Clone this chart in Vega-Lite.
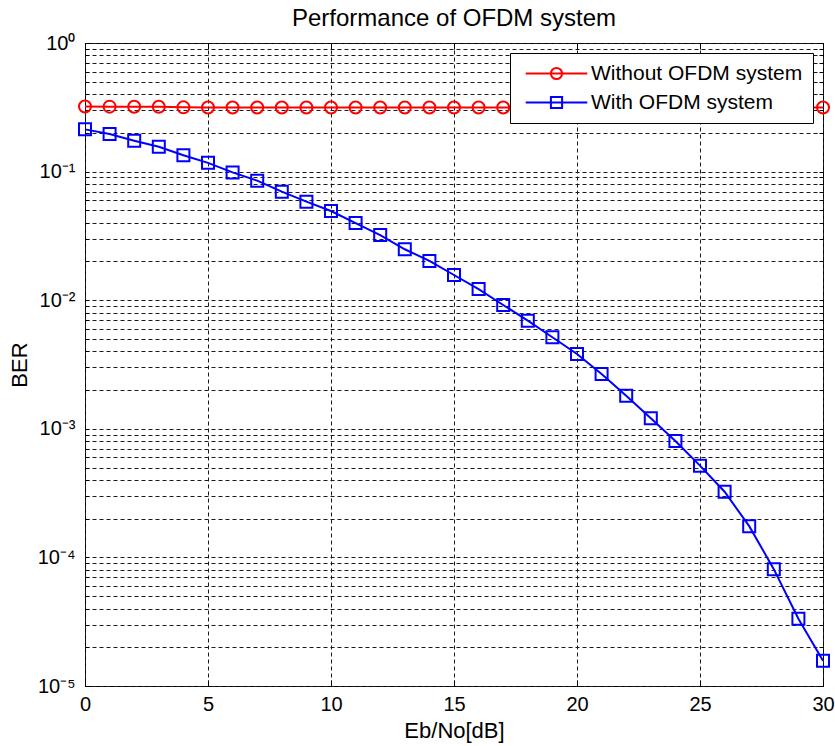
{
  "$schema": "https://vega.github.io/schema/vega-lite/v6.json",
  "width": 738,
  "height": 643,
  "autosize": "none",
  "padding": {"left": 85, "top": 43, "right": 12, "bottom": 60},
  "background": "white",
  "title": {"text": "Performance of OFDM system", "anchor": "middle", "frame": "group", "fontSize": 24, "fontWeight": "normal", "font": "Liberation Sans", "color": "black", "offset": 2},
  "config": {
    "font": "Liberation Sans",
    "view": {"stroke": "black", "strokeWidth": 1},
    "axis": {"labelColor": "black", "titleColor": "black", "labelFontSize": 20, "titleFontSize": 22, "titleFontWeight": "normal", "labelFont": "Liberation Sans", "titleFont": "Liberation Sans", "domainColor": "black", "tickColor": "black", "gridColor": "#1a1a1a", "gridDash": [4, 3], "gridWidth": 1, "gridOpacity": 1, "labelFlush": false, "labelOverlap": false}
  },
  "data": {"values": [
    {"x": 0, "ber": 0.321, "series": "Without OFDM system"},
    {"x": 1, "ber": 0.320, "series": "Without OFDM system"},
    {"x": 2, "ber": 0.319, "series": "Without OFDM system"},
    {"x": 3, "ber": 0.319, "series": "Without OFDM system"},
    {"x": 4, "ber": 0.316, "series": "Without OFDM system"},
    {"x": 5, "ber": 0.315, "series": "Without OFDM system"},
    {"x": 6, "ber": 0.315, "series": "Without OFDM system"},
    {"x": 7, "ber": 0.315, "series": "Without OFDM system"},
    {"x": 8, "ber": 0.315, "series": "Without OFDM system"},
    {"x": 9, "ber": 0.315, "series": "Without OFDM system"},
    {"x": 10, "ber": 0.315, "series": "Without OFDM system"},
    {"x": 11, "ber": 0.315, "series": "Without OFDM system"},
    {"x": 12, "ber": 0.315, "series": "Without OFDM system"},
    {"x": 13, "ber": 0.315, "series": "Without OFDM system"},
    {"x": 14, "ber": 0.315, "series": "Without OFDM system"},
    {"x": 15, "ber": 0.315, "series": "Without OFDM system"},
    {"x": 16, "ber": 0.315, "series": "Without OFDM system"},
    {"x": 17, "ber": 0.315, "series": "Without OFDM system"},
    {"x": 18, "ber": 0.315, "series": "Without OFDM system"},
    {"x": 19, "ber": 0.315, "series": "Without OFDM system"},
    {"x": 20, "ber": 0.315, "series": "Without OFDM system"},
    {"x": 21, "ber": 0.315, "series": "Without OFDM system"},
    {"x": 22, "ber": 0.315, "series": "Without OFDM system"},
    {"x": 23, "ber": 0.315, "series": "Without OFDM system"},
    {"x": 24, "ber": 0.315, "series": "Without OFDM system"},
    {"x": 25, "ber": 0.315, "series": "Without OFDM system"},
    {"x": 26, "ber": 0.315, "series": "Without OFDM system"},
    {"x": 27, "ber": 0.315, "series": "Without OFDM system"},
    {"x": 28, "ber": 0.315, "series": "Without OFDM system"},
    {"x": 29, "ber": 0.315, "series": "Without OFDM system"},
    {"x": 30, "ber": 0.315, "series": "Without OFDM system"},
    {"x": 0, "ber": 0.213, "series": "With OFDM system"},
    {"x": 1, "ber": 0.196, "series": "With OFDM system"},
    {"x": 2, "ber": 0.174, "series": "With OFDM system"},
    {"x": 3, "ber": 0.156, "series": "With OFDM system"},
    {"x": 4, "ber": 0.134, "series": "With OFDM system"},
    {"x": 5, "ber": 0.117, "series": "With OFDM system"},
    {"x": 6, "ber": 0.0986, "series": "With OFDM system"},
    {"x": 7, "ber": 0.085, "series": "With OFDM system"},
    {"x": 8, "ber": 0.0698, "series": "With OFDM system"},
    {"x": 9, "ber": 0.0584, "series": "With OFDM system"},
    {"x": 10, "ber": 0.0494, "series": "With OFDM system"},
    {"x": 11, "ber": 0.0398, "series": "With OFDM system"},
    {"x": 12, "ber": 0.0321, "series": "With OFDM system"},
    {"x": 13, "ber": 0.0249, "series": "With OFDM system"},
    {"x": 14, "ber": 0.0202, "series": "With OFDM system"},
    {"x": 15, "ber": 0.0157, "series": "With OFDM system"},
    {"x": 16, "ber": 0.0122, "series": "With OFDM system"},
    {"x": 17, "ber": 0.00918, "series": "With OFDM system"},
    {"x": 18, "ber": 0.00693, "series": "With OFDM system"},
    {"x": 19, "ber": 0.00515, "series": "With OFDM system"},
    {"x": 20, "ber": 0.00382, "series": "With OFDM system"},
    {"x": 21, "ber": 0.00267, "series": "With OFDM system"},
    {"x": 22, "ber": 0.00181, "series": "With OFDM system"},
    {"x": 23, "ber": 0.00121, "series": "With OFDM system"},
    {"x": 24, "ber": 0.000804, "series": "With OFDM system"},
    {"x": 25, "ber": 0.000517, "series": "With OFDM system"},
    {"x": 26, "ber": 0.000324, "series": "With OFDM system"},
    {"x": 27, "ber": 0.000175, "series": "With OFDM system"},
    {"x": 28, "ber": 0.000081, "series": "With OFDM system"},
    {"x": 29, "ber": 0.0000333, "series": "With OFDM system"},
    {"x": 30, "ber": 0.0000157, "series": "With OFDM system"}
  ]},
  "resolve": {"axis": {"x": "independent", "y": "independent"}},
  "layer": [
    {
      "mark": {"type": "line", "strokeWidth": 2},
      "encoding": {
        "x": {"field": "x", "type": "quantitative", "scale": {"domain": [0, 30], "nice": false, "zero": false}, "axis": {"orient": "bottom", "title": "Eb/No[dB]", "values": [0, 5, 10, 15, 20, 25, 30], "grid": true, "tickSize": -6, "labelPadding": 14, "titlePadding": 6, "domain": false}},
        "y": {"field": "ber", "type": "quantitative", "scale": {"type": "log", "domain": [0.00001, 1], "nice": false}, "axis": {"orient": "left", "title": "BER", "values": [0.00001, 0.00002, 0.00003, 0.00004, 0.00005, 0.00006, 0.00007, 0.00008, 0.00009, 0.0001, 0.0002, 0.0003, 0.0004, 0.0005, 0.0006, 0.0007, 0.0008, 0.0009, 0.001, 0.002, 0.003, 0.004, 0.005, 0.006, 0.007, 0.008, 0.009, 0.01, 0.02, 0.03, 0.04, 0.05, 0.06, 0.07, 0.08, 0.09, 0.1, 0.2, 0.3, 0.4, 0.5, 0.6, 0.7, 0.8, 0.9, 1],
          "grid": true, "tickSize": -4, "labelPadding": 14, "titlePadding": 6, "domain": false,
          "labelExpr": "abs(datum.value - 1) < 0.000000001 ? '10⁰' : abs(datum.value - 0.1) < 0.000000001 ? '10⁻¹' : abs(datum.value - 0.01) < 0.000000001 ? '10⁻²' : abs(datum.value - 0.001) < 0.0000000001 ? '10⁻³' : abs(datum.value - 0.0001) < 0.00000000001 ? '10⁻⁴' : abs(datum.value - 0.00001) < 0.000000000001 ? '10⁻⁵' : ''"}},
        "color": {"field": "series", "type": "nominal",
          "scale": {"domain": ["Without OFDM system", "With OFDM system"], "range": ["#ff0000", "#0000ff"]},
          "legend": {"title": null, "orient": "top-right", "offset": 10, "fillColor": "white", "strokeColor": "black", "padding": 10,
            "labelFontSize": 21, "labelColor": "black", "labelFont": "Liberation Sans", "labelLimit": 400, "symbolSize": 196, "symbolStrokeWidth": 2, "labelOffset": 24, "symbolOffset": 26, "rowPadding": 7,
            "encode": {"symbols": {"update": {"shape": {"signal": "datum.value === 'Without OFDM system' ? 'M-4.4,0L4.4,0M-0.8,0A0.8,0.8 0 1 1 0.8,0A0.8,0.8 0 1 1 -0.8,0' : 'M-4.4,0L4.4,0M-0.8,-0.8L0.8,-0.8L0.8,0.8L-0.8,0.8Z'"}, "fill": {"value": "transparent"}, "strokeWidth": {"value": 2}}}}}}
      }
    },
    {
      "mark": {"type": "point", "filled": false, "strokeWidth": 2, "opacity": 1, "size": 144},
      "encoding": {
        "x": {"field": "x", "type": "quantitative", "axis": null},
        "y": {"field": "ber", "type": "quantitative", "axis": null},
        "color": {"field": "series", "type": "nominal"},
        "shape": {"condition": {"test": "datum.series === 'Without OFDM system'", "value": "circle"}, "value": "square"}
      }
    },
    {
      "mark": {"type": "point", "opacity": 0},
      "encoding": {
        "x": {"field": "x", "type": "quantitative", "axis": {"orient": "top", "labels": false, "grid": false, "tickSize": -6, "domain": false, "title": null, "values": [0, 5, 10, 15, 20, 25, 30]}},
        "y": {"field": "ber", "type": "quantitative", "axis": {"orient": "right", "labels": false, "grid": false, "tickSize": -4, "domain": false, "title": null, "values": [0.00001, 0.00002, 0.00003, 0.00004, 0.00005, 0.00006, 0.00007, 0.00008, 0.00009, 0.0001, 0.0002, 0.0003, 0.0004, 0.0005, 0.0006, 0.0007, 0.0008, 0.0009, 0.001, 0.002, 0.003, 0.004, 0.005, 0.006, 0.007, 0.008, 0.009, 0.01, 0.02, 0.03, 0.04, 0.05, 0.06, 0.07, 0.08, 0.09, 0.1, 0.2, 0.3, 0.4, 0.5, 0.6, 0.7, 0.8, 0.9, 1]}}
      }
    }
  ]
}
